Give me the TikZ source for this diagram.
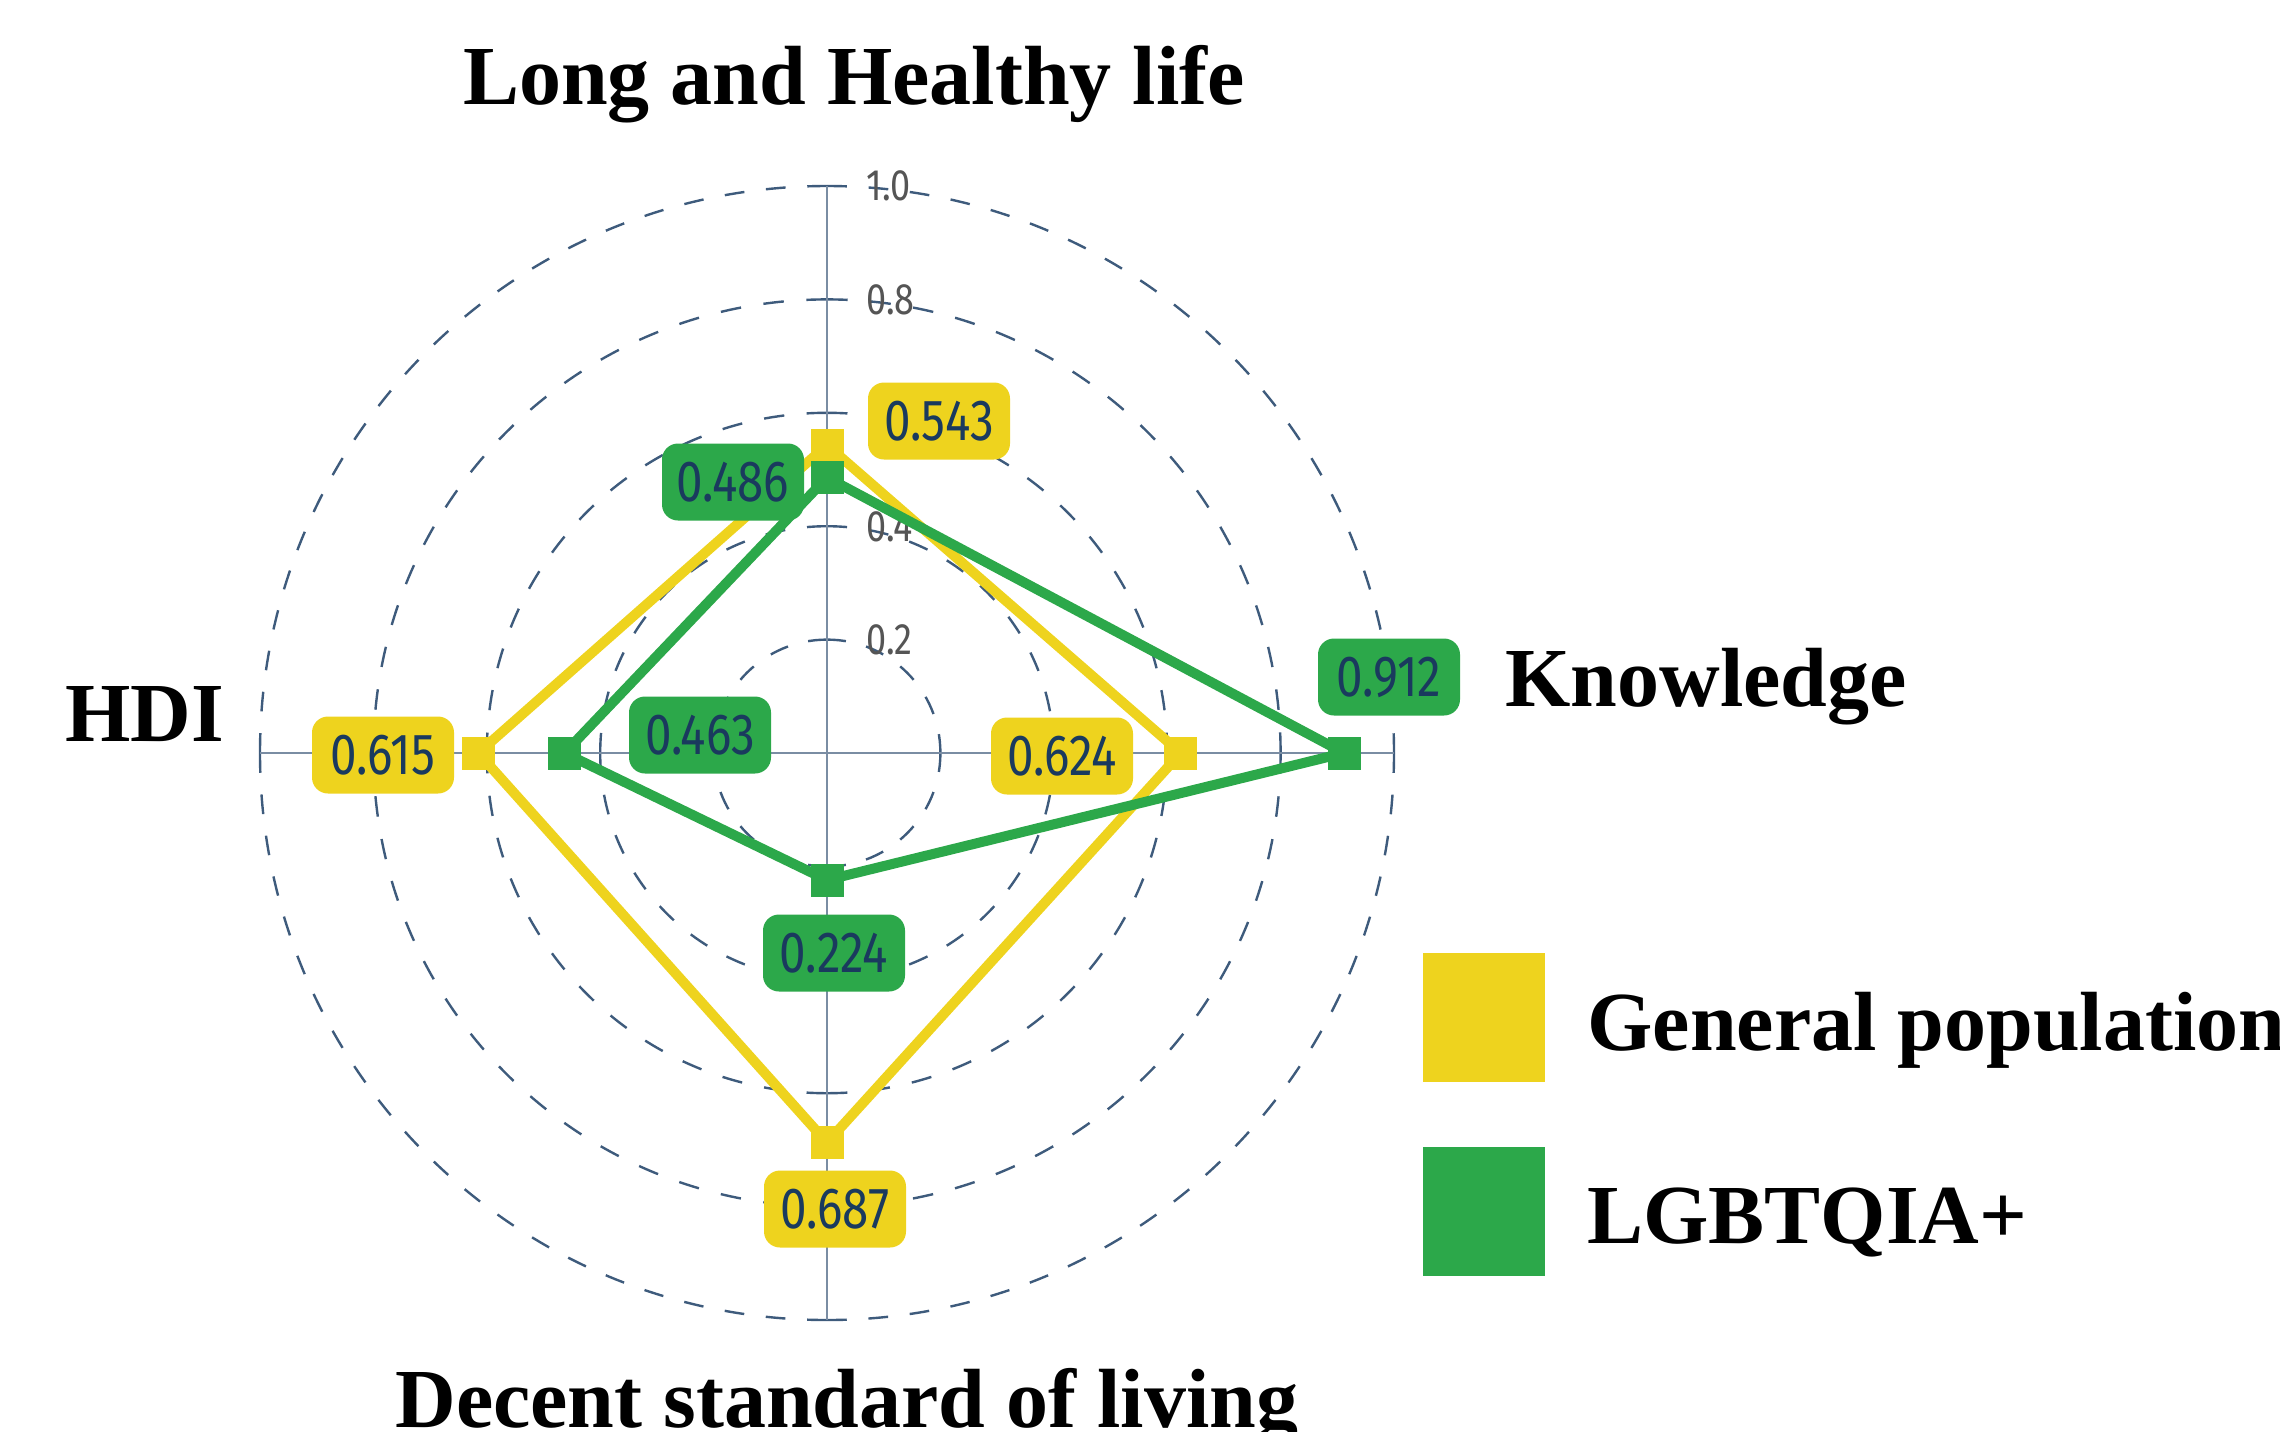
\documentclass[tikz,border=0pt]{standalone}
\usepackage{fontspec}
\setmainfont{Liberation Serif}
\newfontfamily\lblfont[FakeStretch=0.82]{Fira Sans}
\usetikzlibrary{calc}
\definecolor{gpyel}{RGB}{238,211,30}
\definecolor{lggrn}{RGB}{44,168,74}
\definecolor{navy}{RGB}{26,58,94}
\definecolor{circcol}{RGB}{62,91,124}
\definecolor{axiscol}{RGB}{122,141,163}
\definecolor{tickcol}{RGB}{85,85,85}
\tikzset{
  circ/.style={draw=circcol, line width=1.2pt},
  axisline/.style={draw=axiscol, line width=1.3pt},
  ticklbl/.style={anchor=west, inner sep=0pt, text=tickcol, font={\lblfont\fontsize{22pt}{24pt}\selectfont}},
  polyline/.style={line width=5pt, line join=round},
  marker/.style={rectangle, minimum size=16.5pt, inner sep=0pt},
  valbox/.style={rectangle, rounded corners=8pt, minimum width=71pt, minimum height=38.5pt, inner sep=0pt, text=navy, font={\lblfont\fontsize{29pt}{30pt}\selectfont}},
  title/.style={inner sep=0pt, font={\fontsize{42pt}{44pt}\selectfont\bfseries}},
  legsq/.style={rectangle, minimum width=61pt, minimum height=64.5pt, inner sep=0pt}
}
\begin{document}
\begin{tikzpicture}[x=0.5pt,y=-0.5pt]
\useasboundingbox (0,0) rectangle (2280,1431);
\coordinate (C) at (827,753);
% dashed circles, drawn as quarter arcs
\foreach \k in {1,...,5}{
  \pgfmathsetmacro\rpt{\k*113.4*0.5}
  \pgfmathsetmacro\L{pi/2*\rpt}
  \pgfmathsetmacro\n{round((\L-10)/21)}
  \pgfmathsetmacro\s{\L/(\n*21+10)}
  \pgfmathsetmacro\on{10*\s}
  \pgfmathsetmacro\off{11*\s}
  \foreach \a in {0,90,180,270}{
    \draw[circ, dash pattern=on \on pt off \off pt] (C) ++(\a:\rpt pt) arc[start angle=\a, delta angle=90, radius=\rpt pt];
  }
}
% axes
\coordinate (aT) at (827,186);
\coordinate (aB) at (827,1320);
\coordinate (aL) at (260,753);
\coordinate (aR) at (1394,753);
\draw[axisline] (aL) -- (aR);
\draw[axisline] (aT) -- (aB);
% tick labels
\node[ticklbl] (t10) at (866,186) {1.0};
\node[ticklbl] (t08) at (866,300) {0.8};
\node[ticklbl] (t04) at (866,527) {0.4};
\node[ticklbl] (t02) at (866,640) {0.2};
% data vertices
\coordinate (gT) at (827,{753-0.543*567});
\coordinate (gR) at ({827+0.624*567},753);
\coordinate (gB) at (827,{753+0.687*567});
\coordinate (gL) at ({827-0.615*567},753);
\coordinate (lT) at (827,{753-0.486*567});
\coordinate (lR) at ({827+0.912*567},753);
\coordinate (lB) at (827,{753+0.224*567});
\coordinate (lL) at ({827-0.463*567},753);
% general population
\draw[polyline, draw=gpyel] (gT) -- (gR) -- (gB) -- (gL) -- cycle;
\foreach \p in {gT,gR,gB,gL}{\node[marker, fill=gpyel] (m\p) at (\p) {};}
% LGBTQIA+
\draw[polyline, draw=lggrn] (lT) -- (lR) -- (lB) -- (lL) -- cycle;
\foreach \p in {lT,lR,lB,lL}{\node[marker, fill=lggrn] (m\p) at (\p) {};}
% value boxes
\node[valbox, fill=gpyel] (bgT) at (939,421) {0.543};
\node[valbox, fill=lggrn] (blT) at (733,482) {0.486};
\node[valbox, fill=lggrn] (blR) at (1389,677) {0.912};
\node[valbox, fill=gpyel] (bgR) at (1062,756) {0.624};
\node[valbox, fill=gpyel] (bgL) at (383,755) {0.615};
\node[valbox, fill=lggrn] (blL) at (700,735) {0.463};
\node[valbox, fill=lggrn] (blB) at (834,953) {0.224};
\node[valbox, fill=gpyel] (bgB) at (835,1209) {0.687};
% axis titles
\node[title, anchor=base] (tLong) at (854,104) {Long and Healthy life};
\node[title, anchor=base west] (tKnow) at (1505,706) {Knowledge};
\node[title, anchor=base west] (tHDI) at (65,741) {HDI};
\node[title, anchor=base west] (tDec) at (395,1427) {Decent standard of living};
% legend
\node[legsq, fill=gpyel] (legY) at (1484,1017) {};
\node[legsq, fill=lggrn] (legG) at (1484,1211.5) {};
\node[title, anchor=base west] (legYt) at (1587,1050) {General population};
\node[title, anchor=base west] (legGt) at (1587,1243) {LGBTQIA+};
\end{tikzpicture}
\end{document}
